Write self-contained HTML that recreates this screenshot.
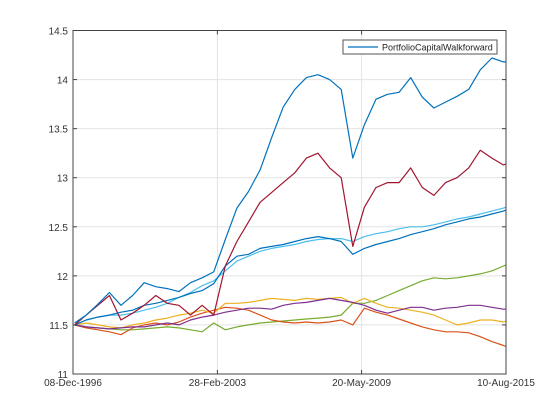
<!DOCTYPE html>
<html><head><meta charset="utf-8"><style>
body{margin:0;background:#fff;}
svg{display:block;font-family:"Liberation Sans",sans-serif;}
</style></head><body>
<svg id="chart" width="560" height="420">
<rect x="0" y="0" width="560" height="420" fill="#fff"/>
<g id="grid"></g><g id="series"></g><g id="axes"></g>
<g>
<rect x="343" y="40" width="154" height="14" fill="#fff" stroke="#555" stroke-width="1"/>
<line x1="348" y1="47" x2="378" y2="47" stroke="#0072BD" stroke-width="1.2"/>
<text x="382" y="50.5" font-size="9" fill="#222">PortfolioCapitalWalkforward</text>
</g>
</svg>
<script>
const dates=[1997.0,1997.5,1998,1998.5,1999,1999.5,2000,2000.5,2001,2001.5,2002,2002.5,2003,2003.5,2004,2004.5,2005,2005.5,2006,2006.5,2007,2007.5,2008,2008.5,2009,2009.5,2010,2010.5,2011,2011.5,2012,2012.5,2013,2013.5,2014,2014.5,2015,2015.5,2015.6];
const sPortfolio=[11.52,11.6,11.71,11.83,11.7,11.8,11.93,11.89,11.87,11.84,11.93,11.98,12.04,12.37,12.69,12.86,13.08,13.41,13.72,13.9,14.02,14.05,14.0,13.9,13.2,13.54,13.8,13.85,13.87,14.02,13.82,13.71,13.77,13.83,13.9,14.1,14.22,14.18,14.18];
const sRed=[11.5,11.6,11.7,11.8,11.55,11.62,11.7,11.8,11.72,11.7,11.6,11.7,11.6,12.1,12.35,12.55,12.75,12.85,12.95,13.05,13.2,13.25,13.1,13.0,12.3,12.7,12.9,12.95,12.95,13.1,12.9,12.82,12.95,13.0,13.1,13.28,13.2,13.13,13.14];
const sLightBlue=[11.5,11.55,11.58,11.6,11.6,11.62,11.65,11.68,11.72,11.78,11.83,11.9,11.95,12.05,12.15,12.2,12.25,12.28,12.3,12.32,12.35,12.37,12.38,12.38,12.35,12.4,12.43,12.45,12.48,12.5,12.5,12.52,12.55,12.58,12.6,12.63,12.66,12.69,12.7];
const sMidBlue=[11.5,11.55,11.58,11.6,11.63,11.65,11.7,11.72,11.75,11.78,11.82,11.85,11.92,12.1,12.2,12.22,12.28,12.3,12.32,12.35,12.38,12.4,12.38,12.35,12.22,12.28,12.32,12.35,12.38,12.42,12.45,12.48,12.52,12.55,12.58,12.6,12.63,12.66,12.67];
const sGreen=[11.5,11.48,11.47,11.46,11.45,11.45,11.46,11.47,11.48,11.47,11.45,11.43,11.52,11.45,11.48,11.5,11.52,11.53,11.54,11.55,11.56,11.57,11.58,11.6,11.72,11.72,11.75,11.8,11.85,11.9,11.95,11.98,11.97,11.98,12.0,12.02,12.05,12.1,12.11];
const sYellow=[11.5,11.52,11.5,11.48,11.47,11.5,11.52,11.55,11.57,11.6,11.62,11.65,11.62,11.72,11.72,11.73,11.75,11.77,11.76,11.75,11.77,11.76,11.77,11.78,11.72,11.77,11.72,11.68,11.67,11.65,11.63,11.6,11.55,11.5,11.52,11.55,11.55,11.53,11.54];
const sOrange=[11.5,11.47,11.45,11.43,11.4,11.47,11.5,11.52,11.5,11.53,11.58,11.62,11.65,11.68,11.67,11.65,11.6,11.55,11.53,11.52,11.53,11.52,11.53,11.55,11.5,11.67,11.63,11.6,11.56,11.52,11.48,11.45,11.43,11.43,11.42,11.38,11.33,11.29,11.28];
const sPurple=[11.5,11.48,11.47,11.46,11.47,11.48,11.48,11.5,11.52,11.5,11.55,11.58,11.6,11.63,11.65,11.67,11.67,11.66,11.7,11.72,11.73,11.75,11.77,11.75,11.73,11.7,11.65,11.62,11.65,11.68,11.68,11.65,11.67,11.68,11.7,11.7,11.68,11.66,11.66];
const yTicks=[11,11.5,12,12.5,13,13.5,14,14.5];
const xTickDates=[1996.93,2003.16,2009.38,2015.61];
const xTickLabels=['08-Dec-1996','28-Feb-2003','20-May-2009','10-Aug-2015'];

const L=73,R=506,T=30.5,B=374,x0=1996.93,x1=2015.61,v0=11,v1=14.5;
const xs=d=>L+(d-x0)/(x1-x0)*(R-L);
const ys=v=>B-(v-v0)/(v1-v0)*(B-T);
const NS='http://www.w3.org/2000/svg';
function mk(tag,attrs,parent){const e=document.createElementNS(NS,tag);for(const k in attrs)e.setAttribute(k,attrs[k]);parent.appendChild(e);return e;}
const grid=document.getElementById('grid'),ser=document.getElementById('series'),ax=document.getElementById('axes');
yTicks.forEach(v=>{const y=ys(v);
 const g=mk('line',{x1:L,x2:R,y1:y,y2:y,stroke:'#e3e3e3','stroke-width':1},grid);
 
 
 const t=mk('text',{x:L-5,y:y+4,'font-size':10,'text-anchor':'end',fill:'#333'},ax);t.textContent=String(v);
 
 
 [[L,L+4],[R-4,R]].forEach(p=>{mk('line',{x1:p[0],x2:p[1],y1:y,y2:y,stroke:'#444'},ax);});
});
xTickDates.forEach((d,i)=>{const x=xs(d);
 const g=mk('line',{x1:x,x2:x,y1:T,y2:B,stroke:'#e3e3e3','stroke-width':1},grid);
 
 
 const t=mk('text',{x:x,y:B+12,'font-size':10,'text-anchor':'middle',fill:'#333'},ax);t.textContent=xTickLabels[i];
 
 
 mk('line',{x1:x,x2:x,y1:B,y2:B-4,stroke:'#444'},ax);mk('line',{x1:x,x2:x,y1:T,y2:T+4,stroke:'#444'},ax);
});
const box=mk('rect',{x:L,y:T,width:R-L,height:B-T,fill:'none',stroke:'#444','stroke-width':1},ax);


const seriesList=[[sGreen,'#77AC30','series-green'],[sOrange,'#D95319','series-orange'],[sYellow,'#EDB120','series-yellow'],[sPurple,'#7E2F8E','series-purple'],[sLightBlue,'#4DBEEE','series-light-blue'],[sMidBlue,'#0072BD','series-mid-blue'],[sRed,'#A2142F','series-red'],[sPortfolio,'#0072BD','series-portfolio']];
seriesList.forEach(s=>{
 const d=s[0].map((v,i)=>(i?'L':'M')+xs(dates[i]).toFixed(1)+','+ys(v).toFixed(1)).join('');
 const p=mk('path',{d:d,fill:'none',stroke:s[1],'stroke-width':1.2,'stroke-linejoin':'round'},ser);
 
 
});
</script>
</body></html>
